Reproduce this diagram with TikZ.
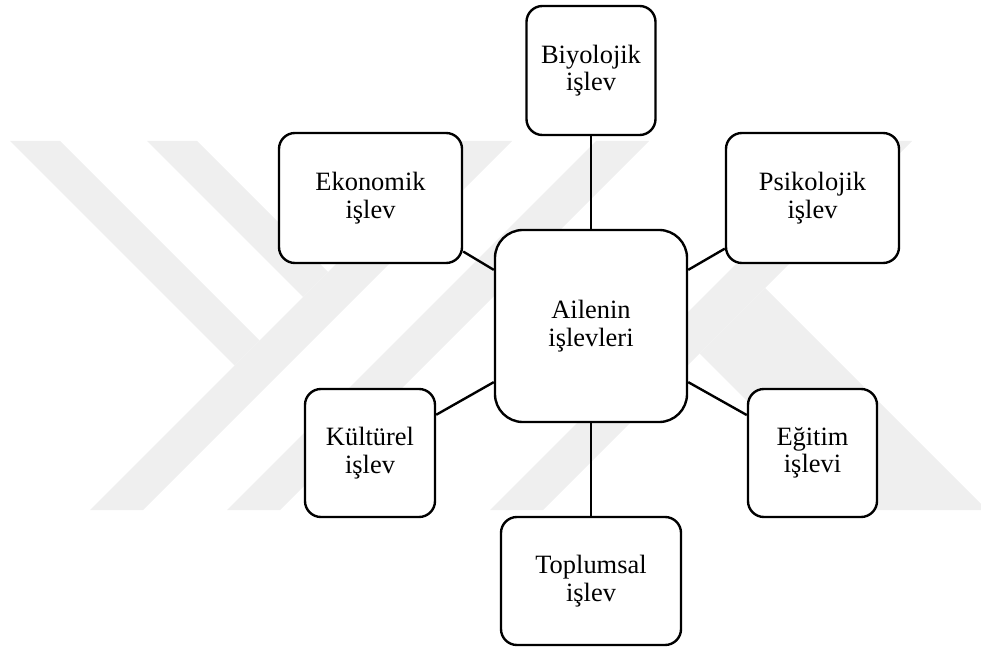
\documentclass[tikz,border=0pt]{standalone}
\usepackage{fontspec}
\setmainfont{Liberation Serif}
\definecolor{wmgray}{RGB}{239,239,239}
\tikzset{
    box/.style={draw=black, line width=1.7pt, fill=white, rounded corners=0.4cm, align=center, inner sep=0pt, font=\fontsize{18.8}{19.5}\selectfont},
    bigbox/.style={box, rounded corners=0.7cm, minimum width=4.8cm, minimum height=4.8cm},
    link/.style={line width=1.7pt, black},
    wmband/.style={fill=wmgray}
}

\begin{document}
\begin{tikzpicture}[x=0.025cm, y=-0.025cm]
    \useasboundingbox (0,0) rectangle (981,650);
    % faint background logo
    \fill[wmband] (10,141) -- (60,141) -- (259.5,340.5) -- (234.5,365.5) -- cycle;
    \fill[wmband] (147,141) -- (197,141) -- (328,272) -- (303,297) -- cycle;
    \fill[wmband] (459,141) -- (512,141) -- (143,510) -- (90,510) -- cycle;
    \fill[wmband] (596,141) -- (649,141) -- (280,510) -- (227,510) -- cycle;
    \fill[wmband] (859,141) -- (912,141) -- (543,510) -- (490,510) -- cycle;
    \fill[wmband] (699.5,353.5) -- (765,288) -- (981,504) -- (981,510) -- (856,510) -- cycle;

    \node [bigbox] (ail) at (591,326) {Ailenin\\işlevleri};
    \node [box, minimum width=3.225cm, minimum height=3.225cm] (biy) at (591,70.5) {Biyolojik\\işlev};
    \node [box, minimum width=4.575cm, minimum height=3.25cm] (eko) at (370.5,198) {Ekonomik\\işlev};
    \node [box, minimum width=4.325cm, minimum height=3.25cm] (psi) at (812.5,198) {Psikolojik\\işlev};
    \node [box, minimum width=3.25cm, minimum height=3.2cm] (kul) at (370,453) {Kültürel\\işlev};
    \node [box, minimum width=3.225cm, minimum height=3.2cm] (egi) at (812.5,453) {Eğitim\\işlevi};
    \node [box, minimum width=4.5cm, minimum height=3.2cm] (top) at (591,581) {Toplumsal\\işlev};

    \draw [link] (biy.south) -- (ail.north);
    \draw [link] (ail.south) -- (top.north);
    \draw [link] (eko.-30) -- (ail.150);
    \draw [link] (psi.210) -- (ail.30);
    \draw [link] (kul.30) -- (ail.210);
    \draw [link] (egi.150) -- (ail.-30);
\end{tikzpicture}
\end{document}
